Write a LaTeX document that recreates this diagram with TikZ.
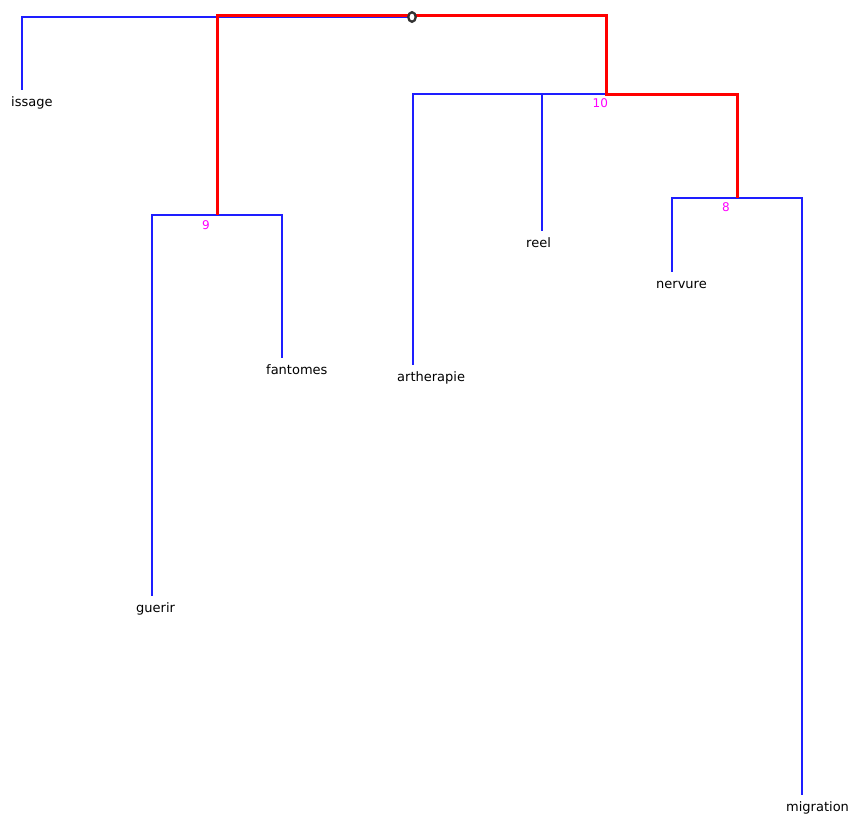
\documentclass[tikz,border=0pt]{standalone}
\usepackage{fontspec}
\setmainfont{DejaVu Sans}
\usetikzlibrary{positioning, shapes.geometric}
\definecolor{treeBlue}{RGB}{30,30,255}
\definecolor{treeRed}{RGB}{255,0,0}
\definecolor{treeMagenta}{RGB}{255,0,255}
\tikzset{
	branch/.style={draw=treeBlue, line width=1.2pt},
	pathbranch/.style={draw=treeRed, line width=3pt, line join=miter},
	leaflabel/.style={anchor=north west, inner sep=0pt, text height=9pt, text depth=2.5pt,
		font=\fontsize{13}{15}\selectfont},
	numlabel/.style={anchor=north west, inner sep=0pt, text=treeMagenta,
		font=\fontsize{12}{14}\selectfont},
	rootmark/.style={ellipse, draw=black!80, fill=white, line width=2.3pt,
		minimum width=7.5pt, minimum height=9.5pt, inner sep=0pt}
}

\begin{document}
\begin{tikzpicture}[x=1pt, y=-1pt]
	\useasboundingbox (0,0) rectangle (848,816);
	% inner nodes
	\coordinate (root) at (412,16);
	\coordinate (n9) at (217,215);
	\coordinate (n10) at (606,94);
	\coordinate (n8) at (737,198);
	% leaf tips
	\coordinate (t-issage) at (22,90);
	\coordinate (t-guerir) at (152,596);
	\coordinate (t-fantomes) at (282,358);
	\coordinate (t-artherapie) at (413,365);
	\coordinate (t-reel) at (542,231);
	\coordinate (t-nervure) at (672,272);
	\coordinate (t-migration) at (802,795);

	\draw[branch] ([yshift=-1pt]root) -| (t-issage);
	\draw[branch] (n9) -| (t-guerir);
	\draw[branch] (n9) -| (t-fantomes);
	\draw[branch] (n10) -| (t-artherapie);
	\draw[branch] (n10) -| (t-reel);
	\draw[branch] (n8) -| (t-nervure);
	\draw[branch] (n8) -| (t-migration);
	\draw[pathbranch] (n9) |- (root) -| (n10) -| (n8);
	\node[rootmark] (rootdot) at ([yshift=-1pt]root) {};

	\node[leaflabel] (issage) at ([xshift=-11pt, yshift=-7.5pt]t-issage) {issage};
	\node[leaflabel] (guerir) at ([xshift=-16pt, yshift=-7.5pt]t-guerir) {guerir};
	\node[leaflabel] (fantomes) at ([xshift=-16pt, yshift=-7.5pt]t-fantomes) {fantomes};
	\node[leaflabel] (artherapie) at ([xshift=-16pt, yshift=-7.5pt]t-artherapie) {artherapie};
	\node[leaflabel] (reel) at ([xshift=-16pt, yshift=-7.5pt]t-reel) {reel};
	\node[leaflabel] (nervure) at ([xshift=-16pt, yshift=-7.5pt]t-nervure) {nervure};
	\node[leaflabel] (migration) at ([xshift=-16pt, yshift=-7.5pt]t-migration) {migration};

	\node[numlabel] (lab9) at ([xshift=-15pt, yshift=-5.5pt]n9) {9};
	\node[numlabel] (lab10) at ([xshift=-13.5pt, yshift=-4.5pt]n10) {10};
	\node[numlabel] (lab8) at ([xshift=-15pt, yshift=-4.5pt]n8) {8};
\end{tikzpicture}
\end{document}
